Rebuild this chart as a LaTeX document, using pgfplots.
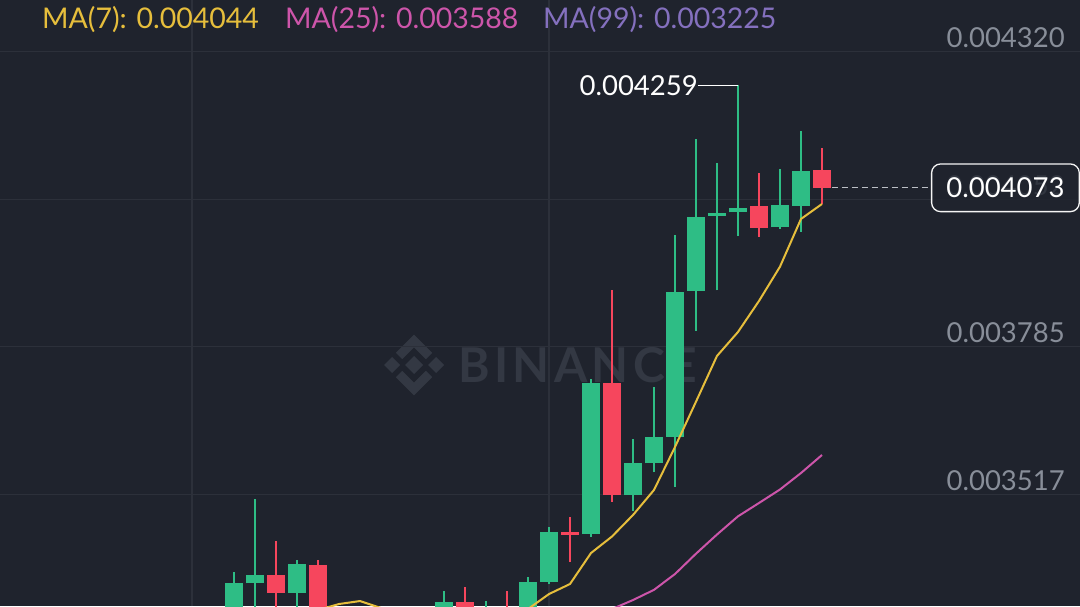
\documentclass[border=0pt]{standalone}
\usepackage{fontspec}
\setmainfont{Lato}
\usepackage{pgfplots}
\usepackage{pgfplotstable}
\pgfplotsset{compat=1.18}
\definecolor{bg}{HTML}{1F232D}
\definecolor{gridc}{HTML}{2C303A}
\definecolor{upc}{HTML}{2EBD85}
\definecolor{dnc}{HTML}{F6465D}
\definecolor{ma7c}{HTML}{E6BE3C}
\definecolor{ma25c}{HTML}{CD55AA}
\definecolor{ma99c}{HTML}{8470BE}
\definecolor{labc}{HTML}{888E99}
\definecolor{wm}{HTML}{333843}
\definecolor{dashc}{HTML}{BCC0C6}
\newcommand\labfont{\fontsize{27.5}{32}\selectfont}
\newcommand\mafont{\fontsize{28.5}{34}\selectfont}
\newfontfamily\wmfont[LetterSpace=9]{Lato Bold}

% green candles: index, open, high, low, close
\pgfplotstableread{
i o h l c
0 0.0032977 0.0033752 0.0032796 0.0033552
1 0.0033552 0.0035077 0.0032886 0.0033698
3 0.0033382 0.0033975 0.0033032 0.0033897
5 0.0032700 0.0032950 0.0032450 0.0032800
8 0.0032500 0.0032850 0.0032350 0.0032750
9 0.0032750 0.0032980 0.0032550 0.0032900
10 0.0032977 0.0033413 0.0032850 0.0033219
12 0.0032900 0.0033231 0.0032800 0.0033100
14 0.0033050 0.0033667 0.0032950 0.0033576
15 0.0033585 0.0034569 0.0033540 0.0034475
17 0.0034447 0.0037260 0.0034398 0.0037182
19 0.0035155 0.0036171 0.0034870 0.0035730
20 0.0035730 0.0037110 0.0035567 0.0036202
21 0.0036213 0.0039873 0.0035306 0.0038834
22 0.0038857 0.0041610 0.0038137 0.0040206
23 0.0040224 0.0041175 0.0038870 0.0040267
24 0.0040285 0.0042590 0.0039861 0.0040369
26 0.0040013 0.0041071 0.0039988 0.0040412
27 0.0040400 0.0041766 0.0039933 0.0041040
}\up

% red candles: index, open, high, low, close
\pgfplotstableread{
i o h l c
2 0.0033709 0.0034320 0.0032977 0.0033382
4 0.0033885 0.0033970 0.0032596 0.0032705
6 0.0032800 0.0033000 0.0032550 0.0032620
7 0.0032620 0.0032900 0.0032400 0.0032500
11 0.0033219 0.0033485 0.0032796 0.0032959
13 0.0033130 0.0033413 0.0032850 0.0032950
16 0.0034475 0.0034756 0.0033939 0.0034435
18 0.0037182 0.0038875 0.0035033 0.0035155
25 0.0040400 0.0040999 0.0039843 0.0040006
28 0.0041053 0.0041452 0.0040436 0.0040730
}\dn

% MA(7)
\pgfplotstableread{
i v
4 0.0033068
5 0.0033177
6 0.0033231
7 0.0033104
8 0.0032977
9 0.0032886
10 0.0032850
11 0.0032832
12 0.0032850
13 0.0032923
14 0.0033086
15 0.0033358
16 0.0033540
17 0.0034102
18 0.0034402
19 0.0034792
20 0.0035246
21 0.0036026
22 0.0036848
23 0.0037678
24 0.0038113
25 0.0038676
26 0.0039298
27 0.0040164
28 0.0040436
}\mas

% MA(25)
\pgfplotstableread{
i v
12 0.0032450
13 0.0032520
14 0.0032580
15 0.0032640
16 0.0032705
17 0.0032886
18 0.0033086
19 0.0033249
20 0.0033434
21 0.0033721
22 0.0034090
23 0.0034438
24 0.0034768
25 0.0035010
26 0.0035255
27 0.0035554
28 0.0035881
}\mam

% MA(99)
\pgfplotstableread{
i v
20 0.0032000
22 0.0032060
24 0.0032120
26 0.0032180
28 0.0032250
}\mal

\begin{document}
\begin{tikzpicture}
\begin{scope}[x=1pt,y=1pt]
  \fill[bg] (0,0) rectangle (1080,606);
  % watermark logo
  \begin{scope}[shift={(414,241)}]
    \fill[wm] (0,9) -- (9,0) -- (0,-9) -- (-9,0) -- cycle;
    \fill[wm] (-22,8) -- (-14,0) -- (-22,-8) -- (-30,0) -- cycle;
    \fill[wm] (22,8) -- (30,0) -- (22,-8) -- (14,0) -- cycle;
    \draw[wm, line width=9pt, miter limit=4] (-15,9) -- (0,24) -- (15,9);
    \draw[wm, line width=9pt, miter limit=4] (-15,-9) -- (0,-24) -- (15,-9);
  \end{scope}
  \node[anchor=west, inner sep=0, text=wm, font=\wmfont\fontsize{48}{48}\selectfont] at (458,241) {BINANCE};
\end{scope}
\begin{axis}[
  at={(0,0)}, anchor=south west,
  width=1080pt, height=606pt, scale only axis,
  xmin=-11.143, xmax=40.286,
  ymin=0.0033141, ymax=0.0044138,
  axis line style={draw=none},
  xtick={-2,15}, ytick={0.003517,0.0037845,0.004052,0.00432},
  xticklabels={}, yticklabels={},
  scaled y ticks=false,
  major tick length=0pt,
  tick style={draw=none},
  grid=major,
  major grid style={draw=gridc, line width=1.3pt},
]
% green wicks and bodies
\addplot[draw=none, mark=none, forget plot, error bars/.cd, y dir=plus, y explicit, error mark=none, error bar style={draw=upc, line width=2pt}]
  table[x=i, y=l, y error plus expr=\thisrow{h}-\thisrow{l}] {\up};
\addplot[draw=none, mark=none, forget plot, error bars/.cd, y dir=plus, y explicit, error mark=none, error bar style={draw=upc, line width=18.5pt}]
  table[x=i, y=o, y error plus expr=\thisrow{c}-\thisrow{o}] {\up};
% red wicks and bodies
\addplot[draw=none, mark=none, forget plot, error bars/.cd, y dir=plus, y explicit, error mark=none, error bar style={draw=dnc, line width=2pt}]
  table[x=i, y=l, y error plus expr=\thisrow{h}-\thisrow{l}] {\dn};
\addplot[draw=none, mark=none, forget plot, error bars/.cd, y dir=plus, y explicit, error mark=none, error bar style={draw=dnc, line width=18.5pt}]
  table[x=i, y=c, y error plus expr=\thisrow{o}-\thisrow{c}] {\dn};
% moving averages
\addplot[ma99c, line width=2pt, mark=none] table[x=i, y=v] {\mal};
\addplot[ma25c, line width=2pt, mark=none] table[x=i, y=v] {\mam};
\addplot[ma7c, line width=2pt, mark=none] table[x=i, y=v] {\mas};

% price scale labels
\node[anchor=east, inner sep=0, text=labc, font=\labfont, yshift=14pt] at (axis cs:39.571,0.00432) {0.004320};
\node[anchor=east, inner sep=0, text=labc, font=\labfont, yshift=14pt] at (axis cs:39.571,0.0037845) {0.003785};
\node[anchor=east, inner sep=0, text=labc, font=\labfont, yshift=14pt] at (axis cs:39.571,0.003517) {0.003517};
\node[anchor=east, inner sep=0, text=labc, font=\labfont, yshift=14pt] at (axis cs:39.571,0.004052) {0.004052};

% last price
\draw[dashc, line width=1.3pt, dash pattern=on 6pt off 4pt] (axis cs:28.476,0.004073) -- (axis cs:33.19,0.004073);
\node[draw=white!92!gray, line width=1.3pt, rounded corners=9pt, fill=bg, fill opacity=0.82, text opacity=1,
      minimum width=147.7pt, minimum height=47.7pt, anchor=west, inner sep=0, text=white, font=\labfont]
      at (axis cs:33.19,0.004073) {0.004073};

% highest price marker
\draw[white, line width=1.2pt] (axis cs:22.095,0.004259) -- (axis cs:24,0.004259);
\node[anchor=east, inner sep=0, text=white, font=\labfont] at (axis cs:22.095,0.004259) {0.004259};

% MA legend
\node[anchor=west, inner sep=0, text=ma7c, font=\mafont] at (axis cs:-9.143,0.0043775) {MA(7): 0.004044};
\node[anchor=west, inner sep=0, text=ma25c, font=\mafont] at (axis cs:2.4286,0.0043775) {MA(25): 0.003588};
\node[anchor=west, inner sep=0, text=ma99c, font=\mafont] at (axis cs:14.714,0.0043775) {MA(99): 0.003225};
\end{axis}
\pgfresetboundingbox
\path (0,0) rectangle (1080pt,606pt);
\end{tikzpicture}
\end{document}
